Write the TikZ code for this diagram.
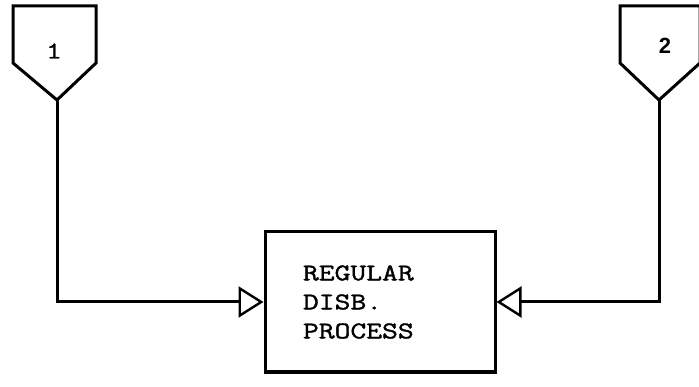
\documentclass[tikz,border=0pt]{standalone}
\usepackage{fontspec}
\newfontfamily\typefont[FakeStretch=1.28, FakeBold=1.5]{Latin Modern Mono}
\newfontfamily\numfont{Liberation Sans}
\usetikzlibrary{arrows.meta, positioning, calc}

\begin{document}
\begin{tikzpicture}[
    x=1pt, y=-1pt,
    line width=3pt,
    >={Triangle[open, length=25pt, width=31pt, line width=2.4pt]},
    % Process Block Style
    process/.style={draw, rectangle, minimum width=230pt, minimum height=140pt, text width=154pt, align=left, font=\typefont\fontsize{24}{29}\selectfont},
    % Off-page Connector Style
    offpage/.style={draw, line join=miter},
    % Connector Number Style
    conlabel/.style={inner sep=0pt}
]
\useasboundingbox (0,0) rectangle (699,387);

% ================= Nodes =================

% 1. Off-page connectors (Top corners)
\draw[offpage] (13,6) -- (96,6) -- (96,63) -- (57,100) -- (13,63) -- cycle;
\coordinate (tip_a) at (57,100);
\node[conlabel, font=\typefont\fontsize{24}{24}\selectfont] (con_a) at (54,51) {1};

\draw[offpage] (620,6) -- (700,6) -- (700,63) -- (659,100) -- (620,63) -- cycle;
\coordinate (tip_b) at (659,100);
\node[conlabel, font=\numfont\bfseries\fontsize{22}{22}\selectfont] (con_b) at (665,46) {2};

% 2. Process block (Bottom middle)
\node[process] (disb) at (380,302) {REGULAR\\DISB.\\PROCESS};

% ================= Connections =================

\draw[->] (tip_a) |- (disb.west);
\draw[->] (tip_b) |- (disb.east);

\end{tikzpicture}
\end{document}
